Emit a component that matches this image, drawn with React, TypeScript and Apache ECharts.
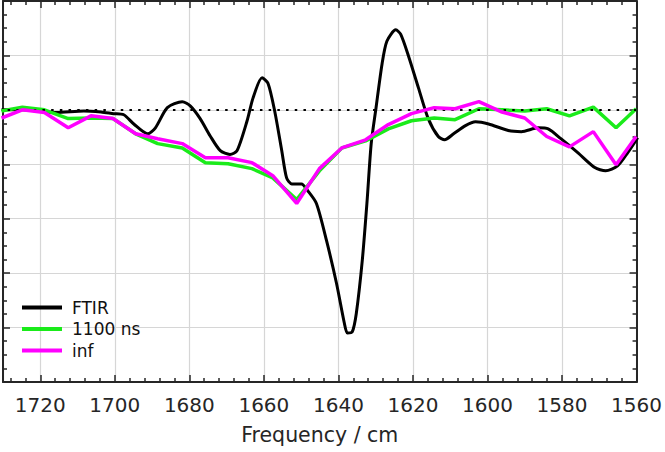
import React, { useEffect, useRef } from "react";
import * as echarts from "echarts";

const xTickLabels = ["1720", "1700", "1680", "1660", "1640", "1620", "1600", "1580", "1560"];

const ftirX = [1730.4, 1725.1, 1715.7, 1708.3, 1703.7, 1700.3, 1697.6, 1694.9, 1691.2, 1689.1, 1685.9, 1681.9, 1679.7, 1677.1, 1674.4, 1671.7, 1669.1, 1667.2, 1664.5, 1662.9, 1660.5, 1658.9, 1657.1, 1655.2, 1653.9, 1652.5, 1649.9, 1648.3, 1645.9, 1643.2, 1640.5, 1638.4, 1637.6, 1636.3, 1635.2, 1633.6, 1632.3, 1631.2, 1629.9, 1628.3, 1627.0, 1624.6, 1623.3, 1621.2, 1618.5, 1615.9, 1613.2, 1611.5, 1609.1, 1605.9, 1603.2, 1599.7, 1594.4, 1590.9, 1586.4, 1583.7, 1580.3, 1575.7, 1571.2, 1568.3, 1565.1, 1562.4, 1559.7];
const ftirY = [0, 0, -0.05, -0.02, -0.04, -0.07, -0.09, -0.26, -0.44, -0.33, 0.04, 0.15, 0.07, -0.16, -0.48, -0.75, -0.82, -0.75, -0.2, 0.22, 0.59, 0.49, -0.02, -0.75, -1.25, -1.36, -1.36, -1.48, -1.72, -2.4, -3.19, -3.92, -4.1, -4.08, -3.74, -2.77, -1.67, -0.62, 0.04, 0.84, 1.26, 1.47, 1.39, 0.99, 0.4, -0.16, -0.49, -0.55, -0.44, -0.29, -0.22, -0.26, -0.38, -0.4, -0.33, -0.35, -0.53, -0.79, -1.06, -1.12, -1.03, -0.79, -0.51];

const trX = [1730.4, 1724.8, 1718.9, 1712.5, 1706.4, 1700.5, 1694.4, 1688.5, 1681.9, 1675.7, 1669.6, 1663.2, 1657.6, 1651.2, 1645.1, 1639.1, 1632.7, 1626.6, 1620.4, 1614.3, 1608.7, 1602.3, 1596.1, 1590.0, 1584.1, 1578.0, 1571.6, 1565.5, 1560.1];
const ns1100Y = [-0.02, 0.05, 0, -0.16, -0.15, -0.16, -0.44, -0.62, -0.7, -0.97, -0.99, -1.08, -1.25, -1.65, -1.12, -0.7, -0.57, -0.35, -0.2, -0.15, -0.18, 0.02, 0, -0.02, 0.02, -0.11, 0.05, -0.33, 0.02];
const infY = [-0.15, 0, -0.05, -0.33, -0.11, -0.16, -0.44, -0.53, -0.62, -0.88, -0.88, -0.97, -1.21, -1.72, -1.08, -0.7, -0.55, -0.27, -0.07, 0.04, 0.02, 0.15, -0.04, -0.15, -0.49, -0.68, -0.4, -1.01, -0.49];

const seriesNames = ["FTIR", "1100 ns", "inf"];
const seriesColors = ["#000000", "#1aeb1a", "#ff00ff"];

const FONT = "DejaVu Sans";
const AX = "#262626";

export default function App() {
  const ref = useRef<HTMLDivElement>(null);
  useEffect(() => {
    if (!ref.current) return;
    const chart = echarts.init(ref.current, undefined, { renderer: "svg" });
    const zip = (xs: number[], ys: number[]) => xs.map((x, i) => [x, ys[i]]);
    const baseX = {
      type: "value" as const,
      min: 1560,
      max: 1730,
      interval: 20,
      inverse: true,
      axisLine: { show: true, onZero: false, lineStyle: { color: AX, width: 2 } },
      axisTick: { show: true, inside: true, length: 7, lineStyle: { color: AX, width: 1.5 } },
      minorTick: { show: true, splitNumber: 5, length: 4, lineStyle: { color: AX, width: 1.5 } },
    };
    const baseY = {
      type: "value" as const,
      min: -5,
      max: 2,
      interval: 1,
      axisLine: { show: true, onZero: false, lineStyle: { color: AX, width: 2 } },
      axisTick: { show: true, inside: true, length: 7, lineStyle: { color: AX, width: 1.5 } },
      minorTick: { show: true, splitNumber: 4, length: 4, lineStyle: { color: AX, width: 1.5 } },
      axisLabel: { show: false },
    };
    chart.setOption({
      animation: false,
      backgroundColor: "#ffffff",
      grid: { left: 1, right: 25, top: 1, bottom: 70, containLabel: false },
      legend: {
        orient: "vertical",
        left: 22,
        top: 299,
        padding: 0,
        itemWidth: 40,
        itemHeight: 4,
        itemGap: 4.5,
        icon: "rect",
        data: seriesNames,
        textStyle: { fontFamily: FONT, fontSize: 17, color: "#111", lineHeight: 17, padding: [0, 0, 0, 5] },
      },
      xAxis: [
        {
          ...baseX,
          position: "bottom",
          splitLine: { show: true, lineStyle: { color: "#d6d6d6", width: 1.2 } },
          axisLabel: {
            show: true,
            fontFamily: FONT,
            fontSize: 20,
            color: AX,
            margin: 13,
            formatter: (v: number) => (xTickLabels.includes(String(v)) ? String(v) : ""),
          },
          name: "Frequency / cm",
          nameLocation: "middle",
          nameGap: 42,
          nameTextStyle: { fontFamily: FONT, fontSize: 20.5, color: AX },
        },
        {
          ...baseX,
          position: "top",
          splitLine: { show: false },
          axisLabel: { show: false },
        },
      ],
      yAxis: [
        { ...baseY, position: "left", splitLine: { show: true, lineStyle: { color: "#d6d6d6", width: 1.2 } } },
        { ...baseY, position: "right", splitLine: { show: false } },
      ],
      series: [
        {
          name: seriesNames[0],
          type: "line",
          data: zip(ftirX, ftirY),
          showSymbol: false,
          smooth: 0.25,
          lineStyle: { color: seriesColors[0], width: 3 },
          itemStyle: { color: seriesColors[0] },
          z: 3,
          markLine: {
            silent: true,
            symbol: "none",
            label: { show: false },
            lineStyle: { color: "#000", width: 2, type: [2.5, 6.2] },
            data: [{ yAxis: 0 }],
          },
        },
        {
          name: seriesNames[1],
          type: "line",
          data: zip(trX, ns1100Y),
          showSymbol: false,
          lineStyle: { color: seriesColors[1], width: 3.5 },
          itemStyle: { color: seriesColors[1] },
          z: 4,
        },
        {
          name: seriesNames[2],
          type: "line",
          data: zip(trX, infY),
          showSymbol: false,
          lineStyle: { color: seriesColors[2], width: 3.5 },
          itemStyle: { color: seriesColors[2] },
          z: 5,
        },
      ],
    });
    return () => chart.dispose();
  }, []);
  return <div ref={ref} style={{ width: 665, height: 452, position: "absolute", left: 0, top: 0 }} />;
}
